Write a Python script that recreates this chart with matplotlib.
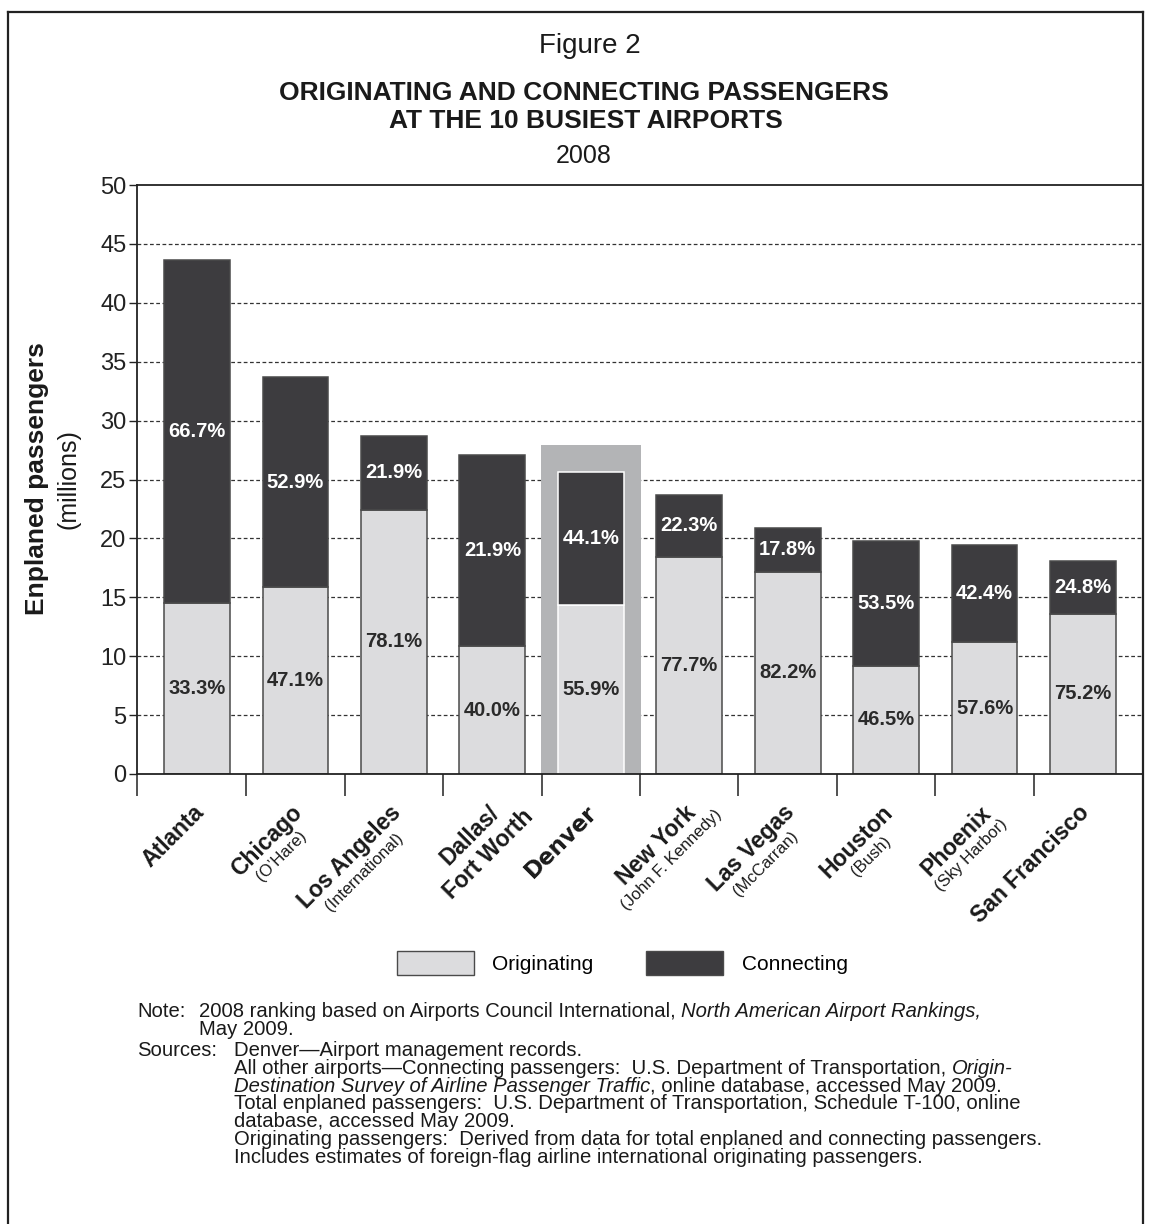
import numpy as np
import matplotlib
matplotlib.use("Agg")
import matplotlib.pyplot as plt
from matplotlib.patches import Patch
from matplotlib.lines import Line2D

# values: enplaned passengers 2008 (millions)
airports = ["Atlanta", "Chicago", "Los Angeles", "Dallas/", "Denver",
            "New York", "Las Vegas", "Houston", "Phoenix", "San Francisco"]
airport_notes = ["", "(O\u2019Hare)", "(International)", "Fort Worth", "",
                 "(John F. Kennedy)", "(McCarran)", "(Bush)", "(Sky Harbor)", ""]
total_pax = [43.6, 33.7, 28.7, 27.1, 25.6, 23.7, 20.9, 19.8, 19.4, 18.1]
orig_pct = [33.3, 47.1, 78.1, 40.0, 55.9, 77.7, 82.2, 46.5, 57.6, 75.2]
conn_pct = [66.7, 52.9, 21.9, 21.9, 44.1, 22.3, 17.8, 53.5, 42.4, 24.8]
highlight = "Denver"
y_ticks = [0, 5, 10, 15, 20, 25, 30, 35, 40, 45, 50]

plt.rcParams["font.family"] = ["Liberation Sans", "DejaVu Sans"]

W, H = 1149, 1224
fig = plt.figure(figsize=(W / 100, H / 100), dpi=100)
renderer = fig.canvas.get_renderer()


def fx(x):
    return x / W


def fy(y):
    return 1 - y / H


light = "#dcdcde"
dark = "#3d3c3f"
edge = "#4a4a4a"
hl = "#b3b4b6"

ax = fig.add_axes([fx(137), fy(774), (1143 - 137) / W, (774 - 185) / H])

x = np.arange(len(airports))
total = np.array(total_pax)
orig = total * np.array(orig_pct) / 100
conn = total - orig
hi = airports.index(highlight)

# grey box behind Denver
ax.bar(hi, total[hi] + 2.35, width=1.02, color=hl, zorder=1)
edges = ["white" if i == hi else edge for i in x]
ax.bar(x, orig, width=0.67, color=light, edgecolor=edges, linewidth=1.1, zorder=2)
ax.bar(x, conn, bottom=orig, width=0.67, color=dark, edgecolor=edges, linewidth=1.1, zorder=2)

for i in x:
    ax.text(i, orig[i] / 2, f"{orig_pct[i]:.1f}%", ha="center", va="center",
            fontsize=14.5, fontweight="bold", color="#2a2a2a", zorder=3)
    ax.text(i, orig[i] + conn[i] / 2, f"{conn_pct[i]:.1f}%", ha="center", va="center",
            fontsize=14.5, fontweight="bold", color="white", zorder=3)

ax.set_xlim(-0.61, len(airports) - 1 + 0.61)
ax.set_ylim(0, 50)
ax.set_yticks(y_ticks)
ax.set_yticklabels([str(t) for t in y_ticks], fontsize=17, color="#222")
ax.tick_params(axis="y", direction="out", length=5.5, width=1, pad=2, color="#222")
xt = [ax.get_xlim()[0]] + list(np.arange(0.5, len(airports) - 1, 1))
ax.set_xticks(xt)
ax.set_xticklabels([])
ax.tick_params(axis="x", direction="out", length=16, width=1.1, color="#222")
for t in y_ticks[1:-1]:
    ax.axhline(t, color="#333", lw=0.9, ls=(0, (3, 2)), zorder=0.5)
for s in ax.spines.values():
    s.set_linewidth(1.3)
    s.set_color("#222")

# rotated category labels
MAIN_FS, SUB_FS = 16.5, 12
ang = np.deg2rad(45)
u = np.array([np.cos(ang), np.sin(ang)])
n = np.array([np.sin(ang), -np.cos(ang)])
pt = 72 / 100


def text_w(s, **kw):
    t = fig.text(0, 0, s, **kw)
    w = t.get_window_extent(renderer=renderer).width
    t.remove()
    return w


for i, (name, note) in enumerate(zip(airports, airport_notes)):
    fam = ["DejaVu Sans"] if name == highlight else ["Liberation Sans"]
    a = np.array([-5.0, -27.0])
    ax.annotate(name, xy=(i, 0), xycoords=("data", "axes fraction"),
                xytext=tuple(a * pt), textcoords="offset points",
                ha="right", va="top", rotation=45, rotation_mode="anchor",
                fontsize=MAIN_FS, fontweight="bold", family=fam, color="#1a1a1a")
    if note:
        w = text_w(name, fontsize=MAIN_FS, fontweight="bold", family=fam)
        paren = note.startswith("(")
        p = a - (w / 2) * u + (25 if paren else 27) * n
        ax.annotate(note, xy=(i, 0), xycoords=("data", "axes fraction"),
                    xytext=tuple(p * pt), textcoords="offset points",
                    ha="center", va="top", rotation=45, rotation_mode="anchor",
                    fontsize=SUB_FS if paren else MAIN_FS,
                    fontweight="normal" if paren else "bold", color="#1a1a1a")

# titles
fig.text(fx(590), fy(46), "Figure 2", ha="center", va="center", fontsize=20, color="#1a1a1a")
fig.text(fx(584), fy(93), "ORIGINATING AND CONNECTING PASSENGERS", ha="center", va="center",
         fontsize=19, fontweight="bold", color="#1a1a1a")
fig.text(fx(586), fy(121), "AT THE 10 BUSIEST AIRPORTS", ha="center", va="center",
         fontsize=19, fontweight="bold", color="#1a1a1a")
fig.text(fx(584), fy(156), "2008", ha="center", va="center", fontsize=18, color="#1a1a1a")

fig.text(fx(37), fy(479), "Enplaned passengers", rotation=90, ha="center", va="center",
         fontsize=19, fontweight="bold", color="#1a1a1a")
fig.text(fx(68), fy(479), "(millions)", rotation=90, ha="center", va="center",
         fontsize=18, color="#1a1a1a")

fig.legend(handles=[Patch(facecolor=light, edgecolor=edge), Patch(facecolor=dark, edgecolor=edge)],
           labels=["Originating", "Connecting"], ncol=2, loc="center",
           bbox_to_anchor=(fx(622), fy(963)), frameon=False, fontsize=15,
           handlelength=3.7, handleheight=1.4, handletextpad=0.9, columnspacing=2.5)

# notes and sources
NOTE_FS = 14.6
space = 0.278 * NOTE_FS * 100 / 72


def put(xp, yp, s, **kw):
    t = fig.text(fx(xp), fy(yp), s, fontsize=NOTE_FS, ha="left", va="baseline",
                 color="#1a1a1a", **kw)
    return t


def right_px(t):
    return t.get_window_extent(renderer=renderer).x1


ys = [1017, 1035] + [1056 + 17.8 * k for k in range(7)]
put(137, ys[0], "Note:")
t = put(199, ys[0], "2008 ranking based on Airports Council International,")
fig.text(fx(right_px(t) + space), fy(ys[0]), "North American Airport Rankings,",
         fontsize=NOTE_FS, style="italic", ha="left", va="baseline", color="#1a1a1a")
put(199, ys[1], "May 2009.")
put(137, ys[2], "Sources:")
put(234, ys[2], "Denver\u2014Airport management records.")
t = put(234, ys[3], "All other airports\u2014Connecting passengers:  U.S. Department of Transportation,")
fig.text(fx(right_px(t) + space), fy(ys[3]), "Origin-",
         fontsize=NOTE_FS, style="italic", ha="left", va="baseline", color="#1a1a1a")
t = put(234, ys[4], "Destination Survey of Airline Passenger Traffic", style="italic")
fig.text(fx(right_px(t)), fy(ys[4]), ", online database, accessed May 2009.",
         fontsize=NOTE_FS, ha="left", va="baseline", color="#1a1a1a")
put(234, ys[5], "Total enplaned passengers:  U.S. Department of Transportation, Schedule T-100, online")
put(234, ys[6], "database, accessed May 2009.")
put(234, ys[7], "Originating passengers:  Derived from data for total enplaned and connecting passengers.")
put(234, ys[8], "Includes estimates of foreign-flag airline international originating passengers.")

# outer frame
for xs, yv in [([8, 8], [1224, 12]), ([8, 1143], [12, 12]), ([1143, 1143], [12, 1224])]:
    fig.add_artist(Line2D([fx(v) for v in xs], [fy(v) for v in yv], transform=fig.transFigure,
                          color="#222", lw=1.6))

fig.savefig("out.png", dpi=100)
